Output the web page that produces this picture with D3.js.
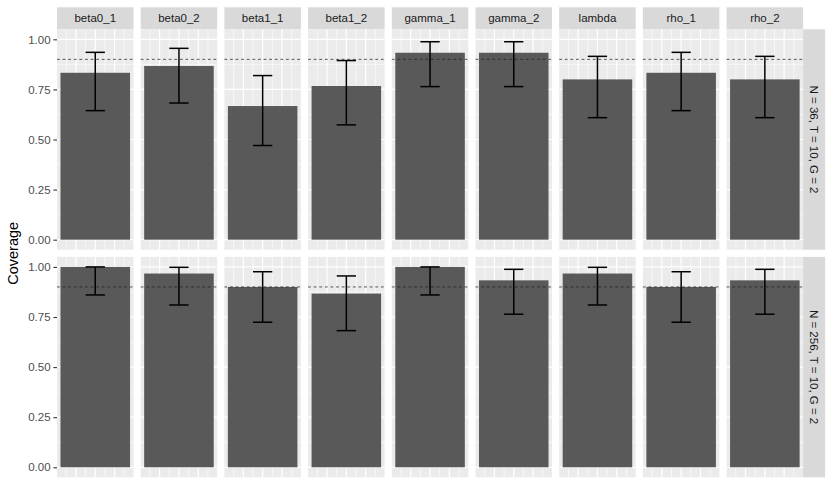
<!DOCTYPE html>
<html>
<head>
<meta charset="utf-8">
<script src="https://cdnjs.cloudflare.com/ajax/libs/d3/7.8.5/d3.min.js"></script>
<style>
  body { margin: 0; background: #ffffff; }
  svg { display: block; font-family: "Liberation Sans", Arial, sans-serif; }
</style>
</head>
<body>
<div class="d3-div"></div>
<script>
// Parameters (columns of the facet grid) and settings (rows).
var params = ["beta0_1", "beta0_2", "beta1_1", "beta1_2", "gamma_1", "gamma_2", "lambda", "rho_1", "rho_2"];
var settings = ["N = 36, T = 10, G = 2", "N = 256, T = 10, G = 2"];

// Coverage and interval bounds.
var coverage36 = [0.833, 0.867, 0.667, 0.767, 0.933, 0.933, 0.800, 0.833, 0.800];
var lower36 = [0.644, 0.682, 0.470, 0.573, 0.764, 0.764, 0.609, 0.644, 0.609];
var upper36 = [0.935, 0.955, 0.819, 0.894, 0.988, 0.988, 0.915, 0.935, 0.915];
var coverage256 = [1.000, 0.967, 0.900, 0.867, 1.000, 0.933, 0.967, 0.900, 0.933];
var lower256 = [0.860, 0.810, 0.724, 0.682, 0.860, 0.764, 0.810, 0.724, 0.764];
var upper256 = [1.000, 0.998, 0.976, 0.955, 1.000, 0.988, 0.998, 0.976, 0.988];

// Nominal level (dashed line) and y tick labels.
var nominal = 0.9;
var yTicks = [0, 0.25, 0.5, 0.75, 1];
var yMinor = [0.125, 0.375, 0.625, 0.875];
var xMajor = [0.75, 1, 1.25];
var xMinor = [0.625, 0.875, 1.125, 1.375];

var coverage = [coverage36, coverage256];
var lower = [lower36, lower256];
var upper = [upper36, upper256];

// Layout, roughly what ggplot gives.
var width = 830;
var height = 489;
var marginLeft = 57;
var marginTop = 7.3;
var stripH = 22;
var panelW = 76.5;
var panelH = 220.4;
var gap = 7.2;

var svg = d3.select(".d3-div")
    .append("svg")
    .attr("width", width)
    .attr("height", height);

// Scales inside one panel (bar at x = 1, width 0.9, 5% expansion).
var x = d3.scaleLinear().domain([0.505, 1.495]).range([0, panelW]);
var y = d3.scaleLinear().domain([-0.05, 1.05]).range([panelH, 0]);

function panelX(j) { return marginLeft + j * (panelW + gap); }
function panelY(i) { return marginTop + stripH + i * (panelH + gap); }

// Top strips.
params.forEach(function(p, j) {
    var g = svg.append("g").attr("transform", "translate(" + panelX(j) + "," + marginTop + ")");
    g.append("rect").attr("width", panelW).attr("height", stripH).attr("fill", "#d9d9d9");
    g.append("text")
        .attr("x", panelW / 2).attr("y", stripH / 2)
        .attr("text-anchor", "middle").attr("dominant-baseline", "central")
        .style("font-size", "11.5px").attr("fill", "#1a1a1a")
        .text(p);
});

// Right strips and the y axis per row.
var stripX = panelX(params.length - 1) + panelW;
settings.forEach(function(s, i) {
    var g = svg.append("g").attr("transform", "translate(" + stripX + "," + panelY(i) + ")");
    g.append("rect").attr("width", stripH).attr("height", panelH).attr("fill", "#d9d9d9");
    g.append("text")
        .attr("transform", "translate(" + (stripH / 2) + "," + (panelH / 2) + ") rotate(90)")
        .attr("text-anchor", "middle").attr("dominant-baseline", "central")
        .style("font-size", "11.5px").attr("fill", "#1a1a1a")
        .text(s);

    var yAxis = d3.axisLeft(y)
        .tickValues(yTicks)
        .tickFormat(d3.format(".2f"))
        .tickSize(3.6)
        .tickPadding(2.8);
    var ax = svg.append("g")
        .attr("transform", "translate(" + marginLeft + "," + panelY(i) + ")")
        .call(yAxis);
    ax.select(".domain").remove();
    ax.selectAll("line").attr("stroke", "#333333").attr("stroke-width", 1.1);
    ax.selectAll("text").attr("fill", "#4d4d4d").style("font-size", "11.5px")
        .style("font-family", "'Liberation Sans', Arial, sans-serif");
});

// Panels: background, grid, bar, error bar, dashed nominal line.
settings.forEach(function(s, i) {
    params.forEach(function(p, j) {
        var g = svg.append("g").attr("transform", "translate(" + panelX(j) + "," + panelY(i) + ")");
        g.append("rect").attr("width", panelW).attr("height", panelH).attr("fill", "#ebebeb");

        g.selectAll(".yminor").data(yMinor).enter().append("line")
            .attr("x1", 0).attr("x2", panelW)
            .attr("y1", d => y(d)).attr("y2", d => y(d))
            .attr("stroke", "#ffffff").attr("stroke-width", 0.6);
        g.selectAll(".xminor").data(xMinor).enter().append("line")
            .attr("y1", 0).attr("y2", panelH)
            .attr("x1", d => x(d)).attr("x2", d => x(d))
            .attr("stroke", "#ffffff").attr("stroke-width", 0.6);
        g.selectAll(".ymajor").data(yTicks).enter().append("line")
            .attr("x1", 0).attr("x2", panelW)
            .attr("y1", d => y(d)).attr("y2", d => y(d))
            .attr("stroke", "#ffffff").attr("stroke-width", 1.2);
        g.selectAll(".xmajor").data(xMajor).enter().append("line")
            .attr("y1", 0).attr("y2", panelH)
            .attr("x1", d => x(d)).attr("x2", d => x(d))
            .attr("stroke", "#ffffff").attr("stroke-width", 1.2);

        var v = coverage[i][j];
        g.append("rect")
            .attr("x", x(0.55)).attr("width", x(1.45) - x(0.55))
            .attr("y", y(v)).attr("height", y(0) - y(v))
            .attr("fill", "#595959");

        // Nominal coverage line.
        g.append("line")
            .attr("x1", 0).attr("x2", panelW)
            .attr("y1", y(nominal)).attr("y2", y(nominal))
            .attr("stroke", "#222222").attr("stroke-width", 0.75)
            .attr("stroke-dasharray", "2.8,2.8");

        // Error bar, width 0.25.
        var lo = lower[i][j], hi = upper[i][j];
        var eb = g.append("g").attr("stroke", "#000000").attr("stroke-width", 1.5).attr("fill", "none");
        eb.append("line").attr("x1", x(1)).attr("x2", x(1)).attr("y1", y(lo)).attr("y2", y(hi));
        eb.append("line").attr("x1", x(0.875)).attr("x2", x(1.125)).attr("y1", y(lo)).attr("y2", y(lo));
        eb.append("line").attr("x1", x(0.875)).attr("x2", x(1.125)).attr("y1", y(hi)).attr("y2", y(hi));
    });
});

// Y axis title.
svg.append("text")
    .attr("transform", "translate(18," + (panelY(0) + (2 * panelH + gap) / 2) + ") rotate(-90)")
    .attr("text-anchor", "middle")
    .style("font-size", "14.5px")
    .attr("fill", "#000000")
    .text("Coverage");
</script>
</body>
</html>
